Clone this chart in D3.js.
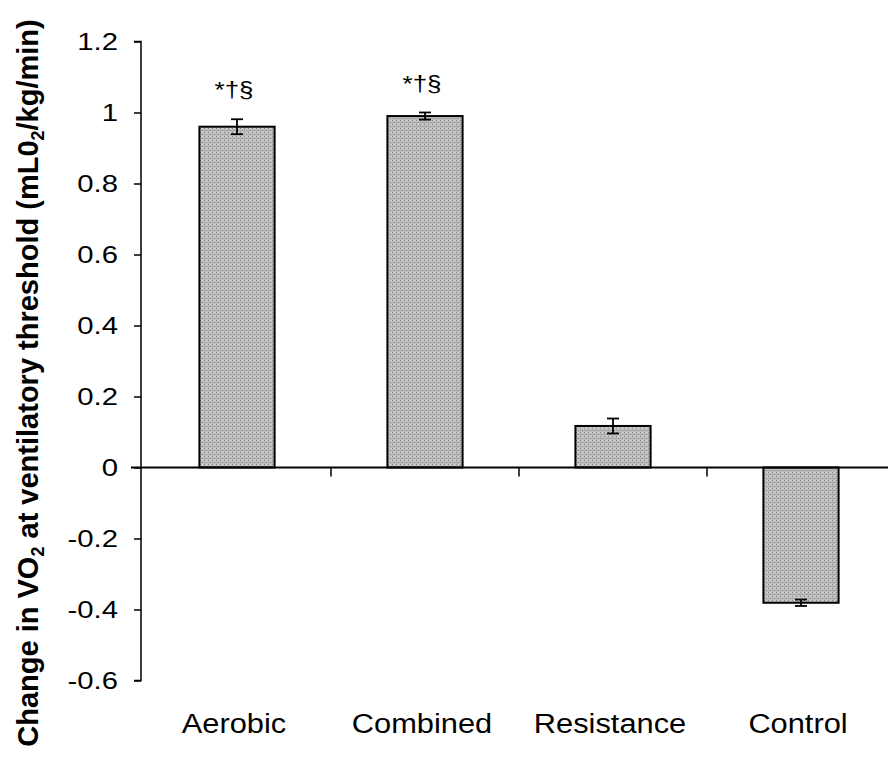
<!DOCTYPE html>
<html><head><meta charset="utf-8">
<script src="https://cdn.jsdelivr.net/npm/d3@7"></script>
<style>body{margin:0;background:#fff}svg{display:block}</style>
</head><body>
<svg id="c" width="888" height="767"></svg>
<script>
const categories = ["Aerobic","Combined","Resistance","Control"];
const values = [0.96, 0.99, 0.117, -0.381];
const errors = [0.021, 0.01, 0.021, 0.009];
const annotations = ["*†§","*†§","",""];
const yTicks = [1.2,1,0.8,0.6,0.4,0.2,0,-0.2,-0.4,-0.6];

const svg = d3.select("#c");
const x = d3.scaleBand().domain(categories).range([143, 895]).paddingInner(0.6).paddingOuter(0.3);
const y = d3.scaleLinear().domain([-0.6, 1.2]).range([680.5, 41.5]);
const font = "Arial, 'Liberation Sans', sans-serif";

// pattern for stippled fill
const defs = svg.append("defs");
const pat = defs.append("pattern").attr("id","stip").attr("width",4).attr("height",4).attr("patternUnits","userSpaceOnUse");
pat.append("rect").attr("width",4).attr("height",4).attr("fill","#bdbdbd");
pat.append("rect").attr("x",0).attr("y",0).attr("width",1).attr("height",1).attr("fill","#8a8a8a");
pat.append("rect").attr("x",2).attr("y",2).attr("width",1).attr("height",1).attr("fill","#8a8a8a");
pat.append("rect").attr("x",2).attr("y",0).attr("width",1).attr("height",1).attr("fill","#e0e0e0");
pat.append("rect").attr("x",0).attr("y",2).attr("width",1).attr("height",1).attr("fill","#a0a0a0");

// bars
svg.selectAll("rect.bar").data(values).enter().append("rect")
  .attr("class","bar")
  .attr("x",(d,i)=>x(categories[i]))
  .attr("width",x.bandwidth())
  .attr("y",d=>y(Math.max(0,d)))
  .attr("height",d=>Math.abs(y(d)-y(0)))
  .attr("fill","url(#stip)")
  .attr("stroke","#000").attr("stroke-width",2);

// error bars
const eb = svg.append("g").attr("stroke","#000").attr("stroke-width",1.8);
values.forEach((v,i)=>{
  const cx = x(categories[i]) + x.bandwidth()/2;
  const y1 = y(v+errors[i]), y2 = y(v-errors[i]);
  eb.append("line").attr("x1",cx).attr("x2",cx).attr("y1",y1).attr("y2",y2);
  eb.append("line").attr("x1",cx-6).attr("x2",cx+6).attr("y1",y1).attr("y2",y1);
  eb.append("line").attr("x1",cx-6).attr("x2",cx+6).attr("y1",y2).attr("y2",y2);
});

// annotations
annotations.forEach((a,i)=>{
  if(!a) return;
  const cx = x(categories[i]) + x.bandwidth()/2 - 3;
  svg.append("g").attr("transform",`translate(${cx},${y(values[i]+errors[i])-22}) scale(1.18,1)`)
    .append("text").attr("text-anchor","middle").attr("font-family",font).attr("font-size",22).text(a);
});

// y axis
const yAxis = d3.axisLeft(y).tickValues(yTicks).tickSize(7).tickFormat(d=>String(d));
const gy = svg.append("g").attr("transform","translate(141,0)").call(yAxis);
gy.select(".domain").attr("stroke","#000").attr("stroke-width",1.5).attr("d","M-7,"+y(1.2)+"H0V"+y(-0.6)+"H-7");
gy.selectAll(".tick line").attr("stroke","#000").attr("stroke-width",1.5);
gy.selectAll(".tick text").remove();
gy.selectAll(".tick").append("g").attr("transform","translate(-23,0) scale(1.22,1)")
  .append("text").attr("text-anchor","end").attr("dy","0.35em")
  .attr("font-family",font).attr("font-size",24).attr("fill","#000").text(d=>String(d));

// x axis at zero
const gx = svg.append("g");
gx.append("line").attr("x1",131).attr("x2",888).attr("y1",y(0)).attr("y2",y(0)).attr("stroke","#000").attr("stroke-width",1.8);
const bounds = categories.slice(1).map(c=>x(c) - x.step()*x.paddingInner()/2);
gx.selectAll("line.tk").data(bounds).enter().append("line").attr("class","tk")
  .attr("x1",d=>d).attr("x2",d=>d).attr("y1",y(0)).attr("y2",y(0)+9).attr("stroke","#000").attr("stroke-width",1.5);

// category labels
svg.selectAll("g.cat").data(categories).enter().append("g").attr("class","cat")
  .attr("transform",d=>`translate(${x(d)+x.bandwidth()/2-3},733) scale(1.1,1)`)
  .append("text").attr("text-anchor","middle").attr("font-family",font).attr("font-size",28).text(d=>d);

// y title
const t = svg.append("text").attr("transform","translate(38,383) rotate(-90)")
  .attr("text-anchor","middle").attr("font-family",font).attr("font-size",29).attr("font-weight","bold");
t.append("tspan").text("Change in VO");
t.append("tspan").attr("font-size",18).attr("dy",6).text("2");
t.append("tspan").attr("dy",-6).text(" at ventilatory threshold (mL0");
t.append("tspan").attr("font-size",18).attr("dy",6).text("2");
t.append("tspan").attr("dy",-6).text("/kg/min)");
</script>
</body></html>
